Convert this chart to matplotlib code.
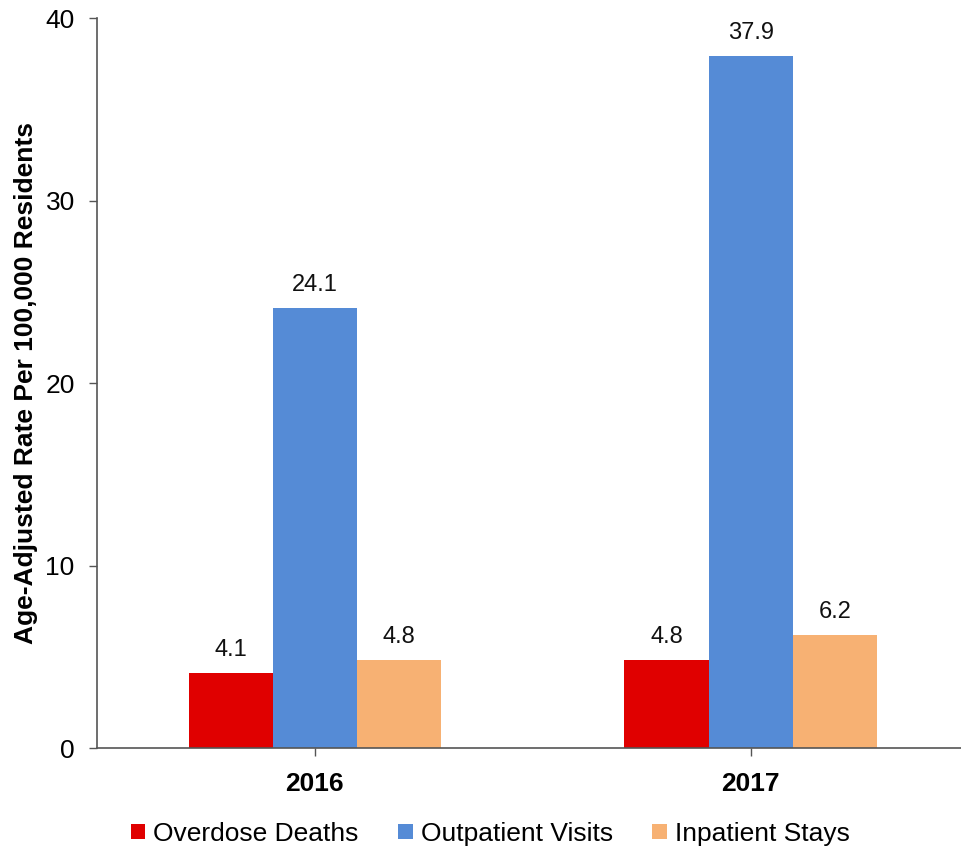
import matplotlib
matplotlib.use("Agg")
import matplotlib.pyplot as plt
import numpy as np

plt.rcParams['font.family'] = ['Liberation Sans', 'DejaVu Sans']

years = ["2016", "2017"]
series_names = ["Overdose Deaths", "Outpatient Visits", "Inpatient Stays"]
overdose_deaths = [4.1, 4.8]
outpatient_visits = [24.1, 37.9]
inpatient_stays = [4.8, 6.2]
colors = ["#E00000", "#558BD6", "#F7B173"]

fig = plt.figure(figsize=(9.61, 8.5), dpi=100)
ax = fig.add_axes([0.1009, 0.12, 0.9069, 0.8588])

x = np.arange(len(years))
w = 0.193
series = [overdose_deaths, outpatient_visits, inpatient_stays]
for i, (vals, name, c) in enumerate(zip(series, series_names, colors)):
    bars = ax.bar(x + (i - 1) * w, vals, width=w, color=c, label=name)
    for b, v in zip(bars, vals):
        ax.text(b.get_x() + b.get_width() / 2, v + 0.95, f"{v:.1f}",
                ha='center', va='baseline', fontsize=17, color='#111111')

ax.set_xlim(-0.5, 1.5)
ax.set_ylim(0, 40)
ax.set_yticks([0, 10, 20, 30, 40])
ax.set_xticks(x)
ax.set_xticklabels(years, fontweight='bold', fontsize=19)
ax.tick_params(axis='y', labelsize=19, length=6, width=1, colors='#555555', labelcolor='black', pad=10)
ax.tick_params(axis='x', length=6, width=1, colors='#555555', labelcolor='black', pad=11)
for s in ['top', 'right']:
    ax.spines[s].set_visible(False)
for s in ['left', 'bottom']:
    ax.spines[s].set_color('#555555')
    ax.spines[s].set_linewidth(1.2)

ax.set_ylabel("Age-Adjusted Rate Per 100,000 Residents", fontweight='bold', fontsize=19, labelpad=5)

fig.legend(loc='center', bbox_to_anchor=(0.51, 0.019), ncol=3, frameon=False,
           fontsize=19, handlelength=0.55, handleheight=0.55, handletextpad=0.3,
           columnspacing=1.5)

fig.savefig("out.png", dpi=100)
